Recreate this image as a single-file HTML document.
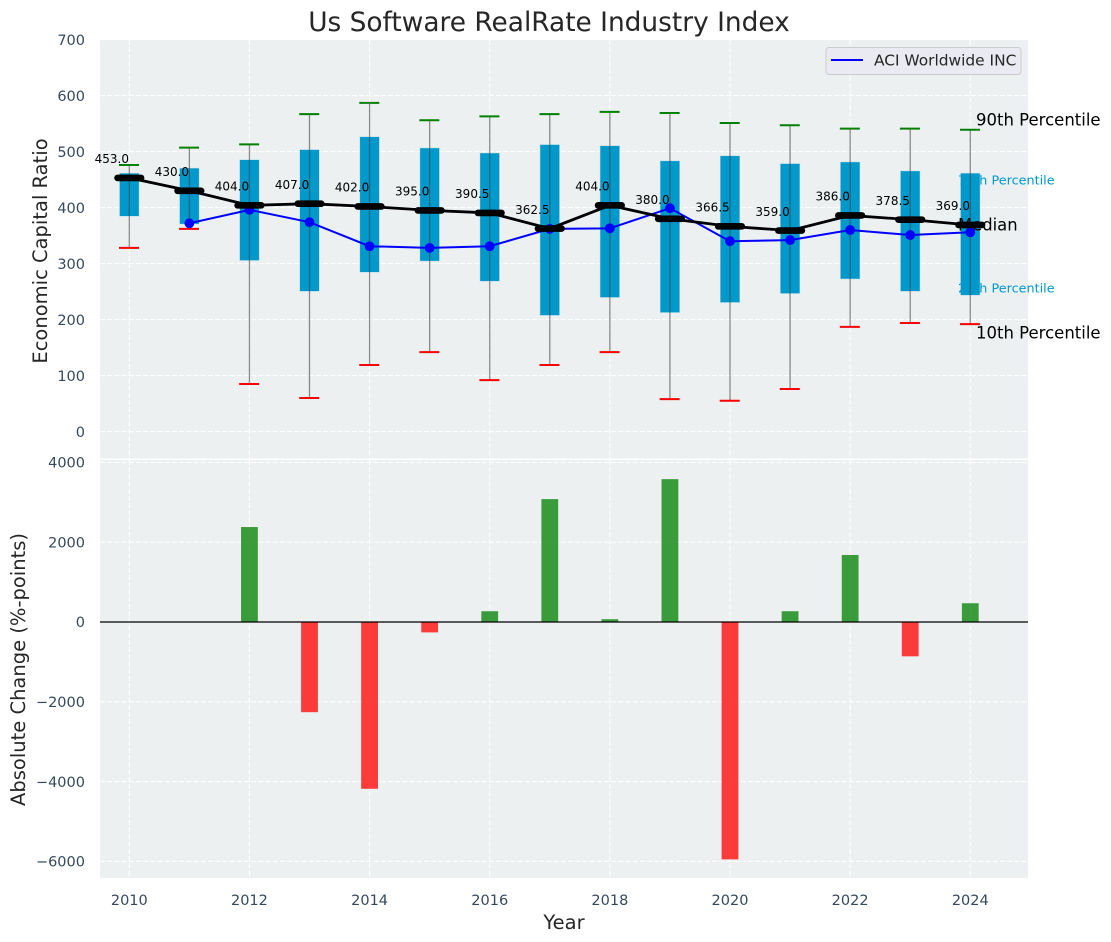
<!DOCTYPE html>
<html>
<head>
<meta charset="utf-8">
<title>Us Software RealRate Industry Index</title>
<style>
html,body{margin:0;padding:0;background:#fff;}
svg{display:block;font-family:"DejaVu Sans","Liberation Sans",sans-serif;}
</style>
</head>
<body>
<svg id="chart" width="1111" height="942" viewBox="0 0 1111 942" xmlns="http://www.w3.org/2000/svg"></svg>
<script>
const years = [2010,2011,2012,2013,2014,2015,2016,2017,2018,2019,2020,2021,2022,2023,2024];
const p90 = [476,507,513,567,587,556,563,567,571,569,551,547,541,541,539];
const p75 = [461,470,485,503,526,506,497,512,510,483,492,478,481,465,461];
const median = [453,430,404,407,402,395,390.5,362.5,404,380,366.5,359,386,378.5,369];
const p25 = [385,371,306,251,285,305,269,208,240,213,231,247,273,251,244];
const p10 = [328,362,85,60,119,142,92,119,142,58,55,76,187,194,192];
const company = [null,372,396,374,331,328,331,362,363,399,340,342,360,351,356];
const absChange = [null,null,2380,-2260,-4180,-260,270,3080,70,3580,-5950,270,1680,-860,470];
const topTicks = [0,100,200,300,400,500,600,700];
const bottomTicks = [-6000,-4000,-2000,0,2000,4000];
const xTicks = [2010,2012,2014,2016,2018,2020,2022,2024];

const NS = 'http://www.w3.org/2000/svg';
const svg = document.getElementById('chart');
const L = 100, R = 1028, T1 = 40, B1 = 458.5, T2 = 460, B2 = 878;
const xs = v => 129.3 + (v - 2010) * 60.07;
const y1 = v => 431.6 - v * 0.56;
const y2 = v => 622 - v * 0.0399;

function add(tag, attrs, text) {
  const el = document.createElementNS(NS, tag);
  for (const k in attrs) el.setAttribute(k, attrs[k]);
  if (text !== undefined) el.textContent = text;
  svg.appendChild(el);
  return el;
}
function line(x1, ya, x2, yb, style) {
  return add('line', Object.assign({x1: x1, y1: ya, x2: x2, y2: yb}, style));
}
function fmtTick(v) { return v < 0 ? '\u2212' + Math.abs(v) : String(v); }

let el;
el = add('rect', {x: L, y: T1, width: R - L, height: B1 - T1, fill: '#ecf0f1'});


el = add('rect', {x: L, y: T2, width: R - L, height: B2 - T2, fill: '#ecf0f1'});



const gridStyle = {stroke: '#ffffff', 'stroke-width': 1.1, 'stroke-dasharray': '5 2.2'};
xTicks.forEach(function (v) {
  el = line(xs(v), T1, xs(v), B1, gridStyle);
  
  
  el = line(xs(v), T2, xs(v), B2, gridStyle);
  
  
  el = add('text', {x: xs(v), y: 905, 'text-anchor': 'middle', 'font-size': 14.5, fill: '#34495e'}, String(v));
  
  
});
topTicks.forEach(function (v) {
  el = line(L, y1(v), R, y1(v), gridStyle);
  
  
  el = add('text', {x: 85, y: y1(v) + 5.2, 'text-anchor': 'end', 'font-size': 14.5, fill: '#34495e'}, String(v));
  
  
});
bottomTicks.forEach(function (v) {
  el = line(L, y2(v), R, y2(v), gridStyle);
  
  
  el = add('text', {x: 85, y: y2(v) + 5.2, 'text-anchor': 'end', 'font-size': 14.5, fill: '#34495e'}, fmtTick(v));
  
  
});

years.forEach(function (yr, i) {
  const x = xs(yr);
  el = add('rect', {x: x - 9.5, y: y1(p75[i]), width: 19, height: y1(p25[i]) - y1(p75[i]), fill: '#0099cc', stroke: '#0099cc', 'stroke-opacity': 0.25, 'stroke-width': 1});
  
  
});

/* percentile key text sits over the boxes; the blue text blends into the last box */
el = add('text', {x: 958, y: 184.5, 'font-size': 12.8, fill: '#0099cc'}, '75th Percentile');


el = add('text', {x: 958, y: 292.5, 'font-size': 12.8, fill: '#0099cc'}, '25th Percentile');


el = add('text', {x: 958, y: 230.5, 'font-size': 16.4, fill: '#000'}, 'Median');


el = add('text', {x: 976, y: 125.5, 'font-size': 16.5, fill: '#000'}, '90th Percentile');


el = add('text', {x: 976, y: 338.5, 'font-size': 16.5, fill: '#000'}, '10th Percentile');



years.forEach(function (yr, i) {
  const x = xs(yr);
  el = line(x, y1(p90[i]), x, y1(p10[i]), {stroke: '#444', 'stroke-opacity': 0.6, 'stroke-width': 1.3});
  
  
  el = line(x - 10.3, y1(p90[i]), x + 9.7, y1(p90[i]), {stroke: '#008000', 'stroke-width': 2});
  
  
  el = line(x - 10.3, y1(p10[i]), x + 9.7, y1(p10[i]), {stroke: '#ff0000', 'stroke-width': 2});
  
  
});

const companyPts = years.map(function (yr, i) {
  return company[i] === null ? null : xs(yr) + ',' + y1(company[i]);
}).filter(Boolean).join(' ');
el = add('polyline', {points: companyPts, fill: 'none', stroke: '#0000ff', 'stroke-width': 2});


years.forEach(function (yr, i) {
  if (company[i] === null) return;
  el = add('circle', {cx: xs(yr), cy: y1(company[i]), r: 4.9, fill: '#0000ff'});
  
  
});

el = add('polyline', {points: years.map(function (yr, i) { return xs(yr) + ',' + y1(median[i]); }).join(' '), fill: 'none', stroke: '#000', 'stroke-width': 2.8});


years.forEach(function (yr, i) {
  const x = xs(yr), y = y1(median[i]);
  el = line(x - 11.8, y, x + 11.8, y, {stroke: '#000', 'stroke-width': 6.6, 'stroke-linecap': 'round'});
  
  
  el = add('text', {x: x - 0.3, y: y - 14.8, 'text-anchor': 'end', 'font-size': 12, fill: '#000'}, median[i].toFixed(1));
  
  
});

years.forEach(function (yr, i) {
  const v = absChange[i];
  if (v === null) return;
  const top = Math.min(y2(v), y2(0));
  el = add('rect', {x: xs(yr) - 8.4, y: top, width: 16.8, height: Math.abs(y2(v) - y2(0)), fill: v >= 0 ? '#008000' : '#ff0000', 'fill-opacity': 0.76});
  
  
});
el = line(L, y2(0), R, y2(0), {stroke: '#000', 'stroke-width': 1.3});



el = add('rect', {x: 826, y: 47.5, width: 195, height: 27, rx: 3, fill: '#eaeaf2', 'fill-opacity': 0.9, stroke: '#cccccc', 'stroke-width': 1});


el = line(831, 60, 863, 60, {stroke: '#0000ff', 'stroke-width': 2});


el = add('text', {x: 874, y: 65.5, 'font-size': 15.4, fill: '#262626'}, 'ACI Worldwide INC');



el = add('text', {x: 549, y: 31, 'text-anchor': 'middle', 'font-size': 26.4, fill: '#262626'}, 'Us Software RealRate Industry Index');


el = add('text', {x: 564, y: 929, 'text-anchor': 'middle', 'font-size': 19.5, fill: '#262626'}, 'Year');


el = add('text', {transform: 'translate(47,251) rotate(-90)', 'text-anchor': 'middle', 'font-size': 19.5, fill: '#262626'}, 'Economic Capital Ratio');


el = add('text', {transform: 'translate(25,669.5) rotate(-90)', 'text-anchor': 'middle', 'font-size': 19.5, fill: '#262626'}, 'Absolute Change (%-points)');


</script>
</body>
</html>
